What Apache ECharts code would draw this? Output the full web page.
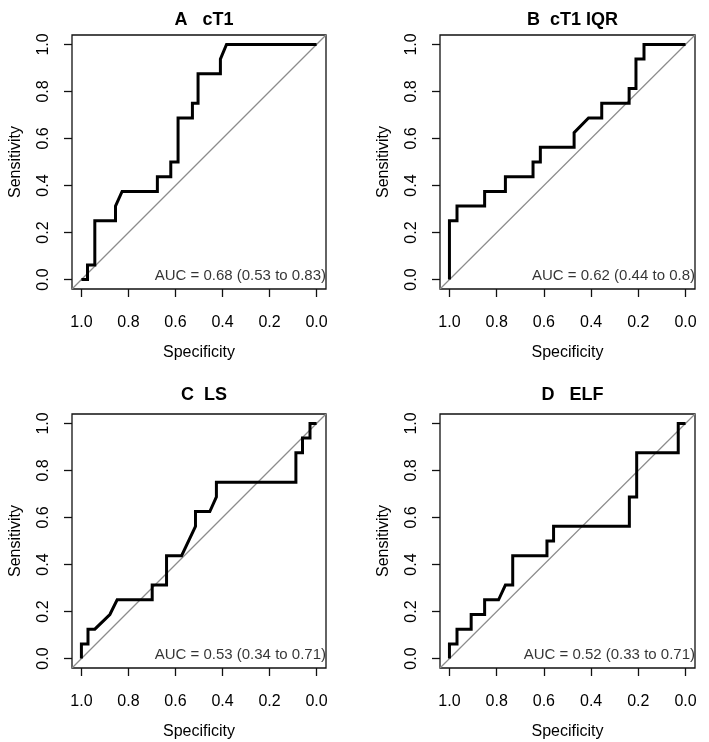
<!DOCTYPE html>
<html><head><meta charset="utf-8">
<script src="https://cdn.jsdelivr.net/npm/echarts@6/dist/echarts.min.js"></script>
<style>html,body{margin:0;padding:0;background:#fff}#c{width:709px;height:742px}</style>
</head><body><div id="c"></div>
<script>
// ---- data ----
const panelTitles = ['A   cT1', 'B  cT1 IQR', 'C  LS', 'D   ELF'];
const aucLabels = ['AUC = 0.68 (0.53 to 0.83)', 'AUC = 0.62 (0.44 to 0.8)', 'AUC = 0.53 (0.34 to 0.71)', 'AUC = 0.52 (0.33 to 0.71)'];
const tickValues = [0, 0.2, 0.4, 0.6, 0.8, 1.0];
const xAxisName = 'Specificity';
const yAxisName = 'Sensitivity';

const specA = [1, 0.974, 0.974, 0.943, 0.943, 0.855, 0.855, 0.827, 0.677, 0.677, 0.62, 0.62, 0.589, 0.589, 0.528, 0.528, 0.504, 0.504, 0.409, 0.409, 0.383, 0];
const sensA = [0, 0, 0.0625, 0.0625, 0.25, 0.25, 0.3125, 0.375, 0.375, 0.4375, 0.4375, 0.5, 0.5, 0.6875, 0.6875, 0.75, 0.75, 0.875, 0.875, 0.9375, 1, 1];

const specB = [1, 1, 0.968, 0.968, 0.851, 0.851, 0.763, 0.763, 0.646, 0.646, 0.615, 0.615, 0.472, 0.472, 0.411, 0.355, 0.355, 0.239, 0.239, 0.21, 0.21, 0.176, 0.176, 0];
const sensB = [0, 0.25, 0.25, 0.3125, 0.3125, 0.375, 0.375, 0.4375, 0.4375, 0.5, 0.5, 0.5625, 0.5625, 0.625, 0.6875, 0.6875, 0.75, 0.75, 0.8125, 0.8125, 0.9375, 0.9375, 1, 1];

const specC = [1, 1, 0.972, 0.972, 0.943, 0.879, 0.848, 0.699, 0.699, 0.638, 0.638, 0.574, 0.515, 0.515, 0.454, 0.426, 0.426, 0.088, 0.088, 0.06, 0.06, 0.028, 0.028, 0];
const sensC = [0, 0.0625, 0.0625, 0.125, 0.125, 0.1875, 0.25, 0.25, 0.3125, 0.3125, 0.4375, 0.4375, 0.5625, 0.625, 0.625, 0.6875, 0.75, 0.75, 0.875, 0.875, 0.9375, 0.9375, 1, 1];

const specD = [1, 1, 0.968, 0.968, 0.908, 0.908, 0.851, 0.851, 0.792, 0.763, 0.732, 0.732, 0.587, 0.587, 0.559, 0.559, 0.238, 0.238, 0.207, 0.207, 0.031, 0.031, 0];
const sensD = [0, 0.0625, 0.0625, 0.125, 0.125, 0.1875, 0.1875, 0.25, 0.25, 0.3125, 0.3125, 0.4375, 0.4375, 0.5, 0.5, 0.5625, 0.5625, 0.6875, 0.6875, 0.875, 0.875, 1, 1];

const specs = [specA, specB, specC, specD];
const senss = [sensA, sensB, sensC, sensD];

// ---- layout ----
const FONT = "'Liberation Sans', Arial, Helvetica, sans-serif";
const grids = [
  { left: 72, top: 35, width: 254, height: 254 },
  { left: 440, top: 35, width: 255, height: 254 },
  { left: 72, top: 414, width: 254, height: 254 },
  { left: 440, top: 414, width: 255, height: 254 }
];
const titleTops = [6, 6, 381, 381];

const option = {
  backgroundColor: '#fff',
  animation: false,
  textStyle: { fontFamily: FONT },
  title: panelTitles.map((t, i) => ({
    text: t,
    left: grids[i].left + grids[i].width / 2,
    top: titleTops[i],
    textAlign: 'center',
    textStyle: { fontFamily: FONT, fontSize: 18, fontWeight: 'bold', color: '#000' }
  })),
  grid: grids.map(g => Object.assign({ show: true, borderColor: '#111', borderWidth: 1.3, backgroundColor: 'transparent' }, g)),
  xAxis: grids.map((g, i) => ({
    type: 'value', gridIndex: i, min: -0.04, max: 1.04, inverse: true,
    name: xAxisName, nameLocation: 'middle', nameGap: 56,
    nameTextStyle: { fontFamily: FONT, fontSize: 16, color: '#000' },
    axisLine: { show: false, onZero: false },
    axisTick: { show: true, length: 8, customValues: tickValues, lineStyle: { color: '#111', width: 1.3 } },
    axisLabel: { customValues: tickValues, margin: 26, fontSize: 16, color: '#000', fontFamily: FONT, formatter: v => v.toFixed(1) },
    splitLine: { show: false }
  })),
  yAxis: grids.map((g, i) => ({
    type: 'value', gridIndex: i, min: -0.04, max: 1.04,
    name: yAxisName, nameLocation: 'middle', nameGap: 48, nameRotate: 90,
    nameTextStyle: { fontFamily: FONT, fontSize: 16, color: '#000' },
    axisLine: { show: false, onZero: false },
    axisTick: { show: true, length: 8, customValues: tickValues, lineStyle: { color: '#111', width: 1.3 } },
    axisLabel: { customValues: tickValues, rotate: 90, margin: 20, fontSize: 16, color: '#000', fontFamily: FONT, formatter: v => v.toFixed(1) },
    splitLine: { show: false }
  })),
  series: []
};

for (let i = 0; i < 4; i++) {
  option.series.push({
    type: 'line', xAxisIndex: i, yAxisIndex: i, symbol: 'none', silent: true,
    data: [[1.04, -0.04], [-0.04, 1.04]],
    lineStyle: { color: '#8c8c8c', width: 1.2 }, z: 2
  });
  option.series.push({
    type: 'line', xAxisIndex: i, yAxisIndex: i, symbol: 'none', silent: true,
    data: specs[i].map((s, k) => [s, senss[i][k]]),
    lineStyle: { color: '#000', width: 3, join: 'miter' }, z: 3
  });
  option.series.push({
    type: 'scatter', xAxisIndex: i, yAxisIndex: i, symbolSize: 0, silent: true,
    data: [[-0.04, 0.015]],
    label: { show: true, position: 'left', distance: 0, formatter: aucLabels[i], fontFamily: FONT, fontSize: 15, color: '#000' },
    z: 4
  });
}

const chart = echarts.init(document.getElementById('c'), null, { renderer: 'canvas' });
chart.setOption(option);
</script>
</body></html>
